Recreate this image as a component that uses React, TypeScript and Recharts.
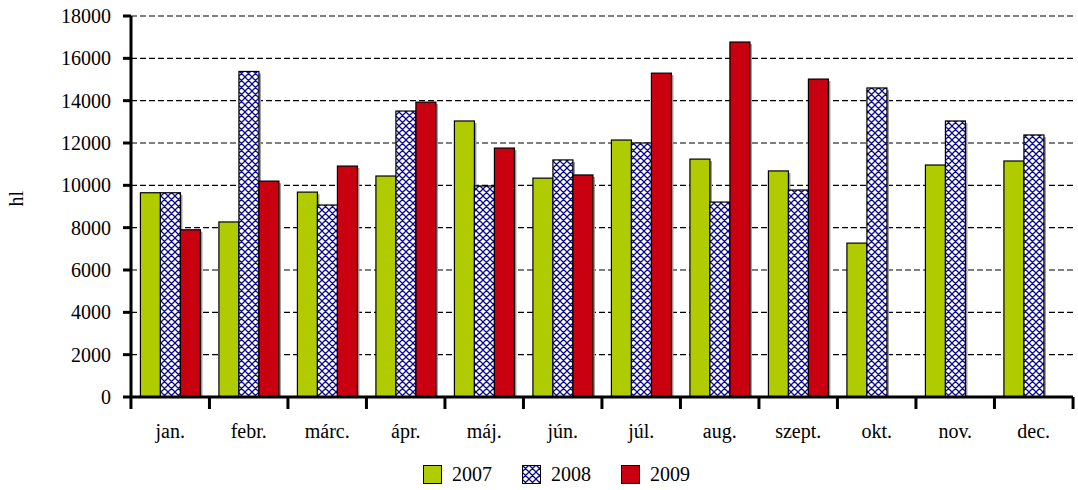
import { BarChart, Bar, XAxis, YAxis, CartesianGrid } from 'recharts';

const months = ['jan.', 'febr.', 'márc.', 'ápr.', 'máj.', 'jún.', 'júl.', 'aug.', 'szept.', 'okt.', 'nov.', 'dec.'];
const y2007 = [9650, 8270, 9680, 10440, 13040, 10340, 12140, 11240, 10680, 7270, 10960, 11150];
const y2008 = [9650, 15380, 9070, 13510, 9970, 11200, 12000, 9210, 9780, 14600, 13040, 12380];
const y2009 = [7900, 10200, 10910, 13930, 11760, 10490, 15300, 16770, 15020, null, null, null];
const yTicks = [0, 2000, 4000, 6000, 8000, 10000, 12000, 14000, 16000, 18000];

const data = months.map((m, i) => ({ month: m, a: y2007[i], b: y2008[i], c: y2009[i] }));

const FONT = "'Liberation Serif', 'Times New Roman', 'DejaVu Serif', serif";
const HATCH = 'M-1,-1 L8,8 M-1,6 L1,8 M6,-1 L8,1 M8,-1 L-1,8 M1,-1 L-1,1 M8,6 L6,8';

const ShadowBar = (props: any) => {
  const { x, y, width, height, fill } = props;
  if (!height || height <= 0) return null;
  return (
    <g>
      <rect x={x + 2} y={y + 2} width={width} height={height - 2} fill="#9a9a9a" />
      <rect x={x} y={y} width={width} height={height} fill={fill} stroke="#000" strokeWidth={1.2} />
    </g>
  );
};

const MonthTick = (props: any) => {
  const { x, y, payload, index } = props;
  const band = 78.6;
  const isLast = index === months.length - 1;
  return (
    <g>
      <line x1={x - band / 2} y1={397} x2={x - band / 2} y2={409} stroke="#000" strokeWidth={3} />
      {isLast && <line x1={x + band / 2} y1={397} x2={x + band / 2} y2={409} stroke="#000" strokeWidth={3} />}
      <text x={x} y={y + 33} textAnchor="middle" style={{ fontFamily: FONT, fontSize: 20 }} fill="#000">
        {payload.value}
      </text>
    </g>
  );
};

const legendItems = [
  { label: '2007', fill: '#b0cc00' },
  { label: '2008', fill: 'url(#hatchLegend)' },
  { label: '2009', fill: '#c8000f' },
];

export default function App() {
  return (
    <div style={{ position: 'fixed', left: 0, top: 0, width: 1078, height: 490, background: '#fff', fontFamily: FONT }}>
      <BarChart
        width={1078}
        height={490}
        data={data}
        margin={{ top: 16, right: 5, left: 0, bottom: 0 }}
        barCategoryGap="12%"
        barGap={0}
        style={{ fontFamily: FONT }}
      >
        <defs>
          <pattern id="hatch" width="7" height="7" patternUnits="userSpaceOnUse">
            <rect width="7" height="7" fill="#fff" />
            <path d={HATCH} stroke="#0a0a90" strokeWidth={1.3} />
          </pattern>
        </defs>
        <CartesianGrid vertical={false} stroke="#000" strokeDasharray="6 3" strokeWidth={1.2} />
        <XAxis
          dataKey="month"
          height={93}
          axisLine={{ stroke: '#000', strokeWidth: 3 }}
          tickLine={false}
          tick={<MonthTick />}
          interval={0}
        />
        <YAxis
          width={131}
          domain={[0, 18000]}
          ticks={yTicks}
          interval={0}
          axisLine={{ stroke: '#000', strokeWidth: 3 }}
          tickLine={{ stroke: '#000', strokeWidth: 3 }}
          tickSize={8}
          tickMargin={12}
          tick={{ fontSize: 20, fill: '#000', style: { fontFamily: FONT } }}
          label={{ value: 'hl', angle: -90, position: 'insideLeft', offset: 16, style: { fontFamily: FONT, fontSize: 20, fill: '#000' } }}
        />
        <Bar dataKey="a" fill="#b0cc00" shape={<ShadowBar />} isAnimationActive={false} />
        <Bar dataKey="b" fill="url(#hatch)" shape={<ShadowBar />} isAnimationActive={false} />
        <Bar dataKey="c" fill="#c8000f" shape={<ShadowBar />} isAnimationActive={false} />
      </BarChart>
      <div style={{ position: 'absolute', top: 463, left: 423, display: 'flex', fontSize: 20 }}>
        {legendItems.map((it) => (
          <div key={it.label} style={{ display: 'flex', alignItems: 'center', width: 99 }}>
            <svg width={19} height={19} style={{ marginRight: 10 }}>
              <defs>
                <pattern id="hatchLegend" width="7" height="7" patternUnits="userSpaceOnUse">
                  <rect width="7" height="7" fill="#fff" />
                  <path d={HATCH} stroke="#0a0a90" strokeWidth={1.3} />
                </pattern>
              </defs>
              <rect x={0.5} y={0.5} width={18} height={18} fill={it.fill} stroke="#000" strokeWidth={1} />
            </svg>
            <span>{it.label}</span>
          </div>
        ))}
      </div>
    </div>
  );
}
